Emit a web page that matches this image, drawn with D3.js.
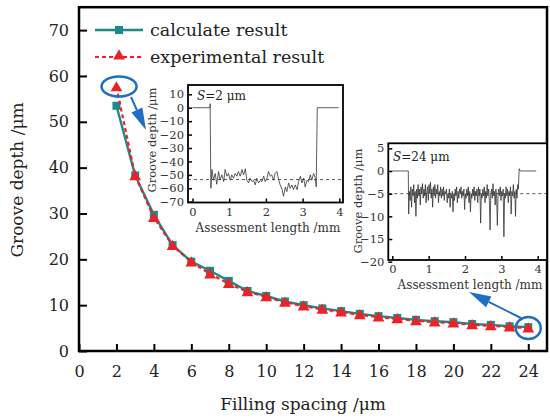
<!DOCTYPE html>
<html>
<head>
<meta charset="utf-8">
<script src="https://cdn.jsdelivr.net/npm/d3@7"></script>
<style>
  body { margin: 0; background: #fff; }
  svg { display: block; font-family: "DejaVu Serif", serif; }
</style>
</head>
<body>
<svg id="chart"></svg>
<script>
// main series
const spacing = [2, 3, 4, 5, 6, 7, 8, 9, 10, 11, 12, 13, 14, 15, 16, 17, 18, 19, 20, 21, 22, 23, 24];
const calculated = [53.5, 38.3, 29.7, 23.1, 19.5, 17.5, 15.3, 13.1, 12.0, 10.8, 10.0, 9.3, 8.7, 8.1, 7.6, 7.2, 6.8, 6.5, 6.3, 5.9, 5.7, 5.4, 5.2];
const experimental = [57.6, 38.2, 29.1, 23.0, 19.4, 16.8, 14.7, 12.9, 11.8, 10.6, 9.8, 9.1, 8.5, 7.9, 7.4, 7.0, 6.6, 6.3, 6.1, 5.7, 5.5, 5.2, 5.0];
const xTicks = [0, 2, 4, 6, 8, 10, 12, 14, 16, 18, 20, 22, 24];
const yTicks = [0, 10, 20, 30, 40, 50, 60, 70];

// inset profiles: [assessment length mm, groove depth um]
const profileS2 = [
  [0, 0], [0.48, 0], [0.48, 3], [0.50, -60], [0.53, -46], [0.57, -54], [0.62, -49], [0.66, -57],
  [0.71, -47.5], [0.75, -54], [0.80, -50], [0.85, -55], [0.89, -46], [0.94, -51], [0.98, -49],
  [1.03, -54], [1.07, -50], [1.12, -52.5], [1.16, -49], [1.21, -51], [1.25, -47.5], [1.30, -51],
  [1.35, -46], [1.39, -50], [1.44, -45.5], [1.48, -54], [1.53, -56], [1.57, -52.5], [1.62, -55],
  [1.66, -54], [1.71, -57.5], [1.75, -52.5], [1.80, -56], [1.85, -54], [1.89, -55], [1.94, -51],
  [1.98, -55], [2.03, -52.5], [2.07, -47.5], [2.12, -51], [2.16, -50], [2.21, -54], [2.25, -49],
  [2.30, -47.5], [2.35, -54], [2.39, -57.5], [2.44, -61], [2.48, -66], [2.53, -59], [2.57, -62.5],
  [2.62, -56], [2.66, -60], [2.71, -57.5], [2.75, -61], [2.80, -57.5], [2.85, -61], [2.89, -55],
  [2.94, -51], [2.98, -56], [3.03, -52.5], [3.07, -59], [3.12, -54], [3.16, -55], [3.21, -50],
  [3.25, -54], [3.30, -49], [3.35, -52.5], [3.37, -59], [3.40, 0], [3.98, 0]
];
const profileS24 = [
  [0, 0], [0.44, 0], [0.45, -9.5], [0.47, -4.5], [0.49, -6.5], [0.51, -3.5], [0.53, -8], [0.55, -4],
  [0.57, -5.5], [0.59, -3], [0.61, -7], [0.63, -4.5], [0.65, -10], [0.67, -4], [0.69, -6], [0.71, -3],
  [0.73, -5.5], [0.75, -4], [0.77, -7.5], [0.79, -3.5], [0.81, -5], [0.83, -2.8], [0.85, -6], [0.87, -4],
  [0.89, -5.5], [0.91, -3], [0.93, -7], [0.95, -4.5], [0.97, -3.5], [0.99, -6.5], [1.01, -3], [1.03, -5],
  [1.05, -2.5], [1.07, -6], [1.09, -4], [1.11, -8], [1.13, -3.5], [1.15, -5.5], [1.17, -3], [1.19, -6],
  [1.21, -4], [1.23, -5], [1.25, -3], [1.27, -7], [1.29, -4.5], [1.31, -5.5], [1.33, -3.5], [1.35, -6],
  [1.37, -4], [1.39, -5.5], [1.41, -3.5], [1.43, -6.5], [1.45, -4.5], [1.47, -5], [1.49, -4], [1.51, -7],
  [1.53, -5], [1.55, -6], [1.57, -4], [1.59, -8], [1.61, -5], [1.63, -6], [1.65, -4.5], [1.67, -9],
  [1.69, -5], [1.71, -6.5], [1.73, -4], [1.75, -5.5], [1.77, -3.5], [1.79, -7], [1.81, -4.5], [1.83, -6],
  [1.85, -4], [1.87, -5], [1.89, -3.5], [1.91, -6], [1.93, -4.5], [1.95, -5.5], [1.97, -4], [1.99, -8.5],
  [2.01, -5], [2.03, -6], [2.05, -4], [2.07, -5.5], [2.09, -3.5], [2.11, -7], [2.13, -4.5], [2.15, -9],
  [2.17, -5], [2.19, -6], [2.21, -4], [2.23, -5.5], [2.25, -3.5], [2.27, -6.5], [2.29, -4.5], [2.31, -5.5],
  [2.33, -4], [2.35, -7], [2.37, -3.5], [2.39, -5.5], [2.41, -4], [2.43, -11.5], [2.45, -5], [2.47, -6],
  [2.49, -4], [2.51, -5.5], [2.53, -3.5], [2.55, -7], [2.57, -4.5], [2.59, -6], [2.61, -3], [2.63, -5.5],
  [2.65, -4], [2.67, -6.5], [2.69, -13], [2.71, -5], [2.73, -4], [2.75, -6], [2.77, -2.8], [2.79, -5.5],
  [2.81, -4.5], [2.83, -7.5], [2.85, -4], [2.87, -6], [2.89, -12], [2.91, -5], [2.93, -4], [2.95, -5.5],
  [2.97, -3.5], [2.99, -6.5], [3.01, -4.5], [3.03, -5.5], [3.05, -4], [3.07, -14.5], [3.09, -5], [3.11, -6],
  [3.13, -3.5], [3.15, -5.5], [3.17, -4], [3.19, -7], [3.21, -4.5], [3.23, -5.5], [3.25, -3.5], [3.27, -9.5],
  [3.29, -4.5], [3.31, -5.5], [3.33, -3], [3.35, -6], [3.37, -4.5], [3.39, -10], [3.41, -4], [3.43, -6],
  [3.45, -3], [3.47, -4], [3.49, 0.5], [3.52, 0], [3.96, 0]
];

const W = 550, H = 419;
const teal = "#1b8a8c", red = "#ec2227", blue = "#1e6fc1";

const svg = d3.select("#chart").attr("width", W).attr("height", H);

const x = d3.scaleLinear().domain([0, 25]).range([79, 547]);
const y = d3.scaleLinear().domain([0, 75]).range([351, 7.2]);

// frame
svg.append("rect")
    .attr("x", 79).attr("y", 7.2).attr("width", 468).attr("height", 343.8)
    .attr("fill", "none").attr("stroke", "#000").attr("stroke-width", 2.5);

const xAxis = svg.append("g")
    .attr("transform", `translate(0, ${y(0)})`)
    .call(d3.axisBottom(x).tickValues(xTicks).tickSize(-7).tickPadding(15).tickSizeOuter(0));
const yAxis = svg.append("g")
    .attr("transform", `translate(${x(0)}, 0)`)
    .call(d3.axisLeft(y).tickValues(yTicks).tickSize(-8).tickPadding(10).tickSizeOuter(0));
[xAxis, yAxis].forEach(g => {
    g.select(".domain").remove();
    g.selectAll(".tick line").attr("stroke", "#000").attr("stroke-width", 2);
    g.selectAll(".tick text").attr("font-family", "DejaVu Serif").attr("font-size", 16).attr("fill", "#222");
});

svg.append("text")
    .attr("x", 303).attr("y", 410)
    .attr("text-anchor", "middle").attr("font-size", 17).attr("fill", "#222")
    .text("Filling spacing /μm");
svg.append("text")
    .attr("transform", "translate(23, 180) rotate(-90)")
    .attr("text-anchor", "middle").attr("font-size", 17).attr("fill", "#222")
    .text("Groove depth /μm");

// series
const calcData = spacing.map((s, i) => [s, calculated[i]]);
const expData = spacing.map((s, i) => [s, experimental[i]]);
const line = d3.line().x(d => x(d[0])).y(d => y(d[1]));

svg.append("path").datum(calcData)
    .attr("d", line).attr("fill", "none").attr("stroke", teal).attr("stroke-width", 2.4);
svg.selectAll(".sq").data(calcData).enter().append("rect")
    .attr("x", d => x(d[0]) - 4).attr("y", d => y(d[1]) - 4)
    .attr("width", 8).attr("height", 8).attr("fill", teal);

const tri = d3.symbol().type(d3.symbolTriangle).size(60);
svg.append("path").datum(expData)
    .attr("d", line).attr("fill", "none").attr("stroke", red).attr("stroke-width", 2.2)
    .attr("stroke-dasharray", "4,3");
svg.selectAll(".tri").data(expData).enter().append("path")
    .attr("d", tri).attr("fill", red)
    .attr("transform", d => `translate(${x(d[0])}, ${y(d[1]) + 1})`);

// legend
const lg = svg.append("g");
lg.append("line").attr("x1", 95).attr("x2", 143).attr("y1", 30).attr("y2", 30)
    .attr("stroke", teal).attr("stroke-width", 2.4);
lg.append("rect").attr("x", 115).attr("y", 26).attr("width", 8).attr("height", 8).attr("fill", teal);
lg.append("text").attr("x", 150).attr("y", 36).attr("font-size", 17.5).attr("fill", "#222").text("calculate result");
lg.append("line").attr("x1", 95).attr("x2", 143).attr("y1", 57).attr("y2", 57)
    .attr("stroke", red).attr("stroke-width", 2.2).attr("stroke-dasharray", "4,3");
lg.append("path").attr("d", tri).attr("fill", red).attr("transform", "translate(119, 56)");
lg.append("text").attr("x", 150).attr("y", 63).attr("font-size", 17.5).attr("fill", "#222").text("experimental result");

// insets
function inset(opts) {
    const g = svg.append("g");
    const ix = d3.scaleLinear().domain([0, 4]).range(opts.xr);
    const iy = d3.scaleLinear().domain(opts.yd).range(opts.yr);
    g.append("rect")
        .attr("x", opts.box[0]).attr("y", opts.box[1])
        .attr("width", opts.box[2] - opts.box[0]).attr("height", opts.box[3] - opts.box[1])
        .attr("fill", "#fff").attr("stroke", "#000").attr("stroke-width", 1.8);
    g.append("line")
        .attr("x1", opts.box[0]).attr("x2", opts.box[2])
        .attr("y1", iy(opts.level)).attr("y2", iy(opts.level))
        .attr("stroke", "#444").attr("stroke-width", 0.9).attr("stroke-dasharray", "3,3");
    const il = d3.line().x(d => ix(d[0])).y(d => iy(d[1]));
    g.append("path").datum(opts.data).attr("d", il)
        .attr("fill", "none").attr("stroke", "#333").attr("stroke-width", 0.8);
    const ax = g.append("g").attr("transform", `translate(0, ${opts.box[3]})`)
        .call(d3.axisBottom(ix).ticks(4).tickSize(-4).tickPadding(5).tickSizeOuter(0));
    const ay = g.append("g").attr("transform", `translate(${opts.box[0]}, 0)`)
        .call(d3.axisLeft(iy).tickValues(opts.yt).tickSize(-4).tickPadding(4).tickSizeOuter(0));
    [ax, ay].forEach(a => {
        a.select(".domain").remove();
        a.selectAll(".tick line").attr("stroke", "#000").attr("stroke-width", 1.5);
        a.selectAll(".tick text").attr("font-family", "DejaVu Serif").attr("font-size", 11.5).attr("fill", "#333");
    });
    ay.selectAll(".tick text").text(d => d < 0 ? "\u2212" + Math.abs(d) : d);
    g.append("text")
        .attr("x", opts.xl[0]).attr("y", opts.xl[1]).attr("text-anchor", "middle")
        .attr("font-size", 12).attr("fill", "#333").text("Assessment length /mm");
    g.append("text")
        .attr("transform", `translate(${opts.yl[0]}, ${opts.yl[1]}) rotate(-90)`)
        .attr("text-anchor", "middle").attr("font-size", 11.5).attr("fill", "#333").text("Groove depth /μm");
    const t = g.append("text").attr("x", opts.lab[0]).attr("y", opts.lab[1])
        .attr("font-size", 12).attr("fill", "#222");
    t.append("tspan").attr("font-style", "italic").text("S");
    t.append("tspan").text(opts.label);
}

inset({
    box: [188, 85, 343, 202.5], xr: [192.5, 339.3], yd: [-70, 10], yr: [201.7, 94.3],
    yt: [-70, -60, -50, -40, -30, -20, -10, 0, 10], level: -53.5, data: profileS2,
    xl: [268, 232], yl: [156, 140], lab: [197, 100], label: "=2 μm"
});
inset({
    box: [388.3, 143.3, 547, 260], xr: [392.3, 537.7], yd: [-20, 5], yr: [261.7, 148.3],
    yt: [-20, -15, -10, -5, 0, 5], level: -5, data: profileS24,
    xl: [470, 289], yl: [362, 201], lab: [393, 161], label: "=24 μm"
});

// annotations: ellipses around first and last experimental points with arrows
const ann = svg.append("g");
ann.append("ellipse").attr("cx", x(2.14)).attr("cy", y(57.7)).attr("rx", 17.5).attr("ry", 10)
    .attr("fill", "none").attr("stroke", blue).attr("stroke-width", 2.5);
ann.append("ellipse").attr("cx", x(24)).attr("cy", y(5.0)).attr("rx", 12.5).attr("ry", 11)
    .attr("fill", "none").attr("stroke", blue).attr("stroke-width", 2.5);

function arrow(x1, y1, x2, y2) {
    const ang = Math.atan2(y2 - y1, x2 - x1);
    const len = 22, half = 6;
    const bx = x2 - len * Math.cos(ang), by = y2 - len * Math.sin(ang);
    ann.append("line").attr("x1", x1).attr("y1", y1).attr("x2", bx).attr("y2", by)
        .attr("stroke", blue).attr("stroke-width", 2);
    const px = -Math.sin(ang) * half, py = Math.cos(ang) * half;
    ann.append("path")
        .attr("d", `M${x2},${y2}L${bx + px},${by + py}L${bx - px},${by - py}Z`)
        .attr("fill", blue);
}
arrow(131, 97, 146, 130);
arrow(521, 318, 469, 292);
</script>
</body>
</html>
